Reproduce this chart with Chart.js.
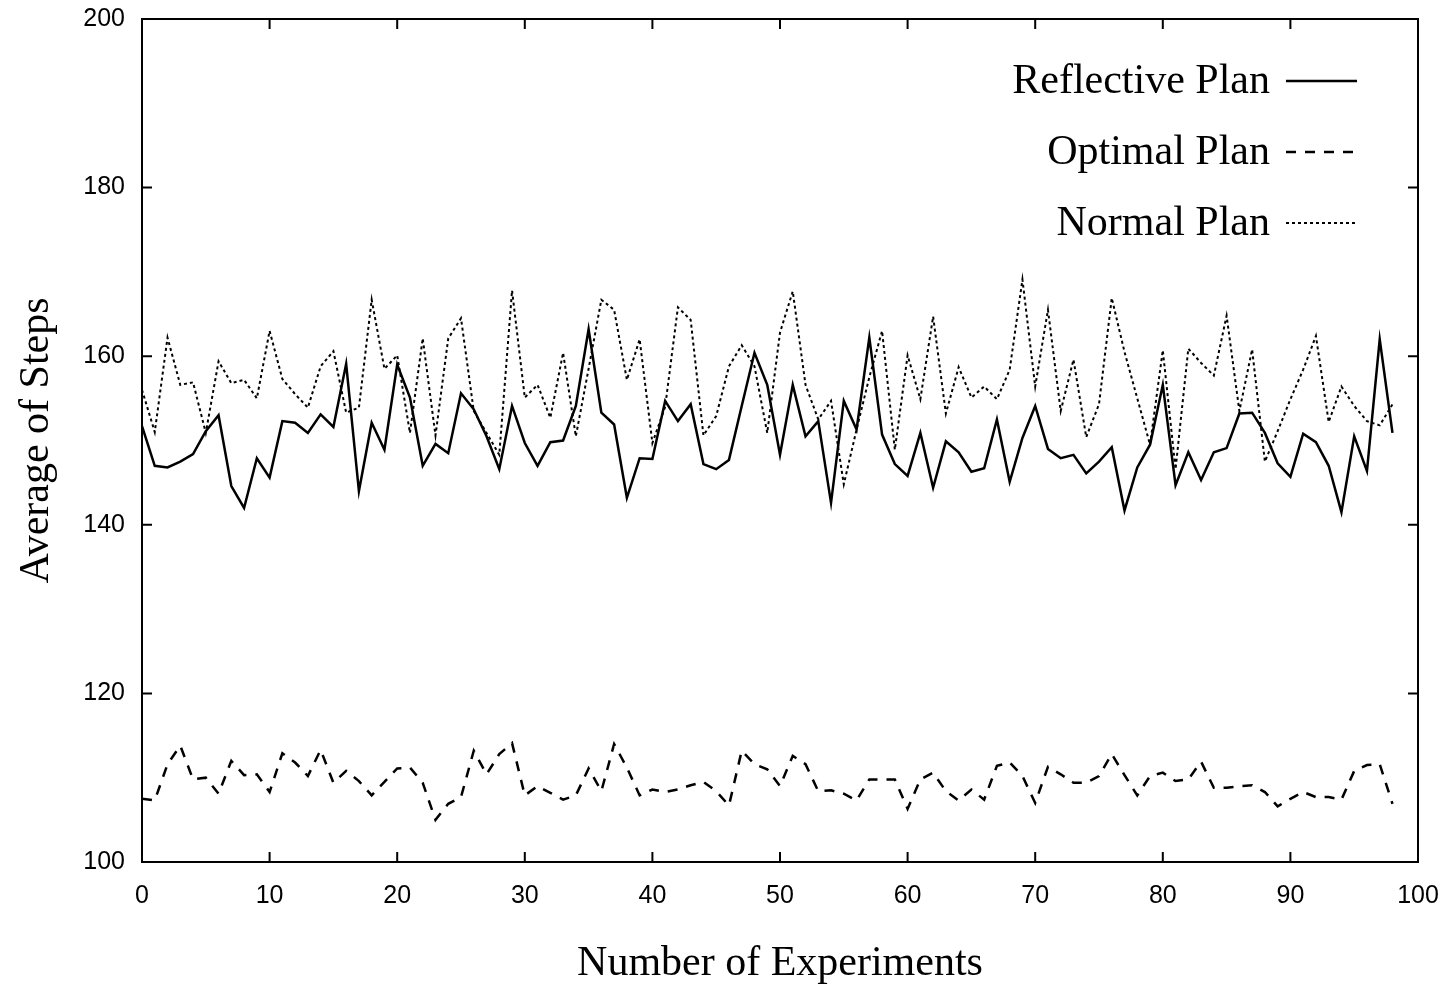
<!DOCTYPE html>
<html lang="en">
<head>
  <meta charset="utf-8" />
  <title>Average of Steps</title>
  <style>
body {
  margin: 0;
  background: #fff;
}
#chartContainer {
  width: 1446px;
  height: 989px;
}
  </style>
</head>
<body>
  <div id="chartContainer">
    <canvas id="myChart"></canvas>
  </div>
  <script src="https://cdn.jsdelivr.net/npm/chart.js"></script>
  <script>
// x = experiment number
const experiments = [
  0, 1, 2, 3, 4, 5, 6, 7, 8, 9, 10, 11, 12, 13, 14, 15, 16, 17, 18, 19,
  20, 21, 22, 23, 24, 25, 26, 27, 28, 29, 30, 31, 32, 33, 34, 35, 36, 37, 38, 39,
  40, 41, 42, 43, 44, 45, 46, 47, 48, 49, 50, 51, 52, 53, 54, 55, 56, 57, 58, 59,
  60, 61, 62, 63, 64, 65, 66, 67, 68, 69, 70, 71, 72, 73, 74, 75, 76, 77, 78, 79,
  80, 81, 82, 83, 84, 85, 86, 87, 88, 89, 90, 91, 92, 93, 94, 95, 96, 97, 98
];
const reflectivePlan = [
  151.7, 147.0, 146.8, 147.5, 148.4, 151.1, 153.0, 144.6, 142.0, 147.9,
  145.6, 152.3, 152.1, 150.9, 153.1, 151.6, 159.1, 144.0, 152.1, 148.9,
  159.0, 155.1, 147.0, 149.6, 148.5, 155.6, 153.7, 150.5, 146.6, 154.1,
  149.7, 147.0, 149.8, 150.0, 154.1, 163.2, 153.3, 151.9, 143.2, 147.9,
  147.8, 154.7, 152.3, 154.3, 147.2, 146.6, 147.7, 154.1, 160.4, 156.6,
  148.3, 156.6, 150.5, 152.3, 142.6, 154.7, 151.3, 162.2, 150.7, 147.2,
  145.8, 150.9, 144.4, 149.9, 148.6, 146.3, 146.7, 152.5, 145.1, 150.3,
  154.1, 149.0, 147.9, 148.3, 146.1, 147.5, 149.2, 141.7, 146.8, 149.5,
  156.6, 144.7, 148.6, 145.3, 148.6, 149.1, 153.2, 153.3, 150.9, 147.3,
  145.7, 150.8, 149.8, 147.0, 141.5, 150.5, 146.4, 162.0, 150.9
];
const optimalPlan = [
  107.5, 107.3, 111.6, 113.8, 109.8, 110.0, 108.1, 112.0, 110.3, 110.4,
  108.3, 112.9, 111.8, 110.2, 113.3, 109.4, 110.8, 109.6, 107.9, 109.5,
  111.1, 111.2, 109.4, 105.0, 106.9, 107.7, 113.2, 110.4, 112.8, 114.1,
  107.9, 109.0, 108.2, 107.4, 107.9, 111.1, 108.4, 114.0, 111.2, 107.9,
  108.6, 108.3, 108.6, 109.1, 109.5, 108.4, 106.7, 113.2, 111.6, 111.0,
  109.0, 112.6, 111.6, 108.4, 108.5, 108.1, 107.3, 109.8, 109.8, 109.8,
  106.3, 109.8, 110.6, 108.4, 107.3, 108.6, 107.4, 111.4, 111.8, 110.2,
  107.0, 111.3, 110.4, 109.4, 109.4, 110.2, 112.8, 110.3, 107.9, 110.2,
  110.6, 109.6, 109.8, 111.9, 108.8, 108.8, 109.0, 109.1, 108.3, 106.6,
  107.5, 108.3, 107.7, 107.7, 107.4, 110.8, 111.5, 111.6, 106.9
];
const normalPlan = [
  156.0, 151.0, 162.2, 156.6, 156.9, 150.9, 159.4, 156.8, 157.2, 155.0,
  163.0, 157.3, 155.5, 153.9, 158.8, 160.6, 153.3, 153.9, 166.7, 158.5,
  160.1, 150.9, 162.1, 150.6, 162.1, 164.5, 153.5, 150.9, 148.3, 167.8,
  155.1, 156.6, 152.7, 160.4, 150.5, 158.5, 166.7, 165.5, 157.2, 162.0,
  149.7, 154.0, 165.8, 164.3, 150.6, 152.9, 158.8, 161.3, 158.8, 150.9,
  162.8, 167.7, 156.6, 152.5, 154.7, 144.8, 151.3, 157.5, 163.0, 148.9,
  160.1, 154.9, 164.7, 153.2, 158.7, 155.1, 156.4, 154.9, 158.4, 169.1,
  156.4, 165.5, 153.5, 159.6, 150.4, 154.3, 166.9, 160.5, 155.0, 149.5,
  160.7, 146.6, 160.9, 159.2, 157.7, 164.8, 153.5, 160.8, 147.5, 151.1,
  154.9, 158.4, 162.4, 152.2, 156.4, 154.1, 152.3, 151.8, 154.3
];
const seriesNames = ['Reflective Plan', 'Optimal Plan', 'Normal Plan'];
const xTicks = [0, 10, 20, 30, 40, 50, 60, 70, 80, 90, 100];
const yTicks = [100, 120, 140, 160, 180, 200];

const SERIF = '"Liberation Serif", "Times New Roman", serif';
const SANS = '"Liberation Sans", Arial, sans-serif';

function toPoints(values) {
  return experiments.map((x, i) => ({x: x, y: values[i]}));
}

// frame with inward ticks on all four sides (gnuplot style)
const frameTicks = {
  id: 'frameTicks',
  afterDraw(chart) {
    const {ctx, chartArea: a, scales} = chart;
    const len = 10;
    ctx.save();
    ctx.strokeStyle = '#000';
    ctx.lineWidth = 2;
    ctx.setLineDash([]);
    ctx.strokeRect(a.left, a.top, a.right - a.left, a.bottom - a.top);
    ctx.beginPath();
    for (const v of xTicks) {
      const px = scales.x.getPixelForValue(v);
      ctx.moveTo(px, a.bottom); ctx.lineTo(px, a.bottom - len);
      ctx.moveTo(px, a.top); ctx.lineTo(px, a.top + len);
    }
    for (const v of yTicks) {
      const py = scales.y.getPixelForValue(v);
      ctx.moveTo(a.left, py); ctx.lineTo(a.left + len, py);
      ctx.moveTo(a.right, py); ctx.lineTo(a.right - len, py);
    }
    ctx.stroke();
    ctx.restore();
  }
};

// legend: right aligned text with a line sample to its right
const keyLegend = {
  id: 'keyLegend',
  afterDraw(chart) {
    const ctx = chart.ctx;
    const textRight = 1270;
    const lineLeft = 1286, lineRight = 1357;
    const rows = [93, 164, 235];
    ctx.save();
    ctx.font = '42px ' + SERIF;
    ctx.fillStyle = '#000';
    ctx.textAlign = 'right';
    ctx.textBaseline = 'alphabetic';
    chart.data.datasets.forEach((ds, i) => {
      const base = rows[i];
      ctx.fillText(ds.label, textRight, base);
      ctx.beginPath();
      ctx.strokeStyle = '#000';
      ctx.lineWidth = ds.borderWidth;
      ctx.setLineDash(ds.borderDash || []);
      ctx.moveTo(lineLeft, base - 12);
      ctx.lineTo(lineRight, base - 12);
      ctx.stroke();
    });
    ctx.restore();
  }
};

const data = {
  datasets: [
    {
      label: seriesNames[0],
      data: toPoints(reflectivePlan),
      borderColor: '#000',
      borderWidth: 2.5,
      borderDash: [],
    },
    {
      label: seriesNames[1],
      data: toPoints(optimalPlan),
      borderColor: '#000',
      borderWidth: 2.5,
      borderDash: [10, 9],
    },
    {
      label: seriesNames[2],
      data: toPoints(normalPlan),
      borderColor: '#000',
      borderWidth: 2,
      borderDash: [3, 3],
    }
  ]
};
data.datasets.forEach(ds => {
  ds.pointRadius = 0;
  ds.fill = false;
  ds.tension = 0;
  ds.showLine = true;
});

const config = {
  type: 'scatter',
  data: data,
  options: {
    responsive: true,
    maintainAspectRatio: false,
    animation: false,
    layout: {
      padding: {left: 0, top: 19, right: 28, bottom: 0}
    },
    plugins: {
      legend: {display: false},
      tooltip: {enabled: false}
    },
    scales: {
      x: {
        type: 'linear',
        min: 0,
        max: 100,
        afterFit: function(scale) {
          scale.height = 127;
          scale.paddingLeft = 0;  // labels may hang over the padding
          scale.paddingRight = 0;
        },
        afterBuildTicks: function(scale) {
          scale.ticks = xTicks.map(v => ({value: v}));
        },
        grid: {display: false},
        border: {display: false},
        ticks: {
          color: '#000',
          padding: 11,
          font: {family: SANS, size: 25}
        },
        title: {
          display: true,
          text: 'Number of Experiments',
          color: '#000',
          font: {family: SERIF, size: 42},
          padding: {top: 0, bottom: 0}
        }
      },
      y: {
        min: 100,
        max: 200,
        afterFit: function(scale) {
          scale.width = 142;
          scale.paddingTop = 0;
          scale.paddingBottom = 0;
        },
        afterBuildTicks: function(scale) {
          scale.ticks = yTicks.map(v => ({value: v}));
        },
        grid: {display: false},
        border: {display: false},
        ticks: {
          color: '#000',
          padding: 9,
          font: {family: SANS, size: 25}
        },
        title: {
          display: true,
          text: 'Average of Steps',
          color: '#000',
          font: {family: SERIF, size: 42},
          padding: {top: 12, bottom: 0}
        }
      }
    }
  },
  plugins: [frameTicks, keyLegend]
};

const chart = new Chart(document.getElementById('myChart'), config);
  </script>
</body>
</html>
